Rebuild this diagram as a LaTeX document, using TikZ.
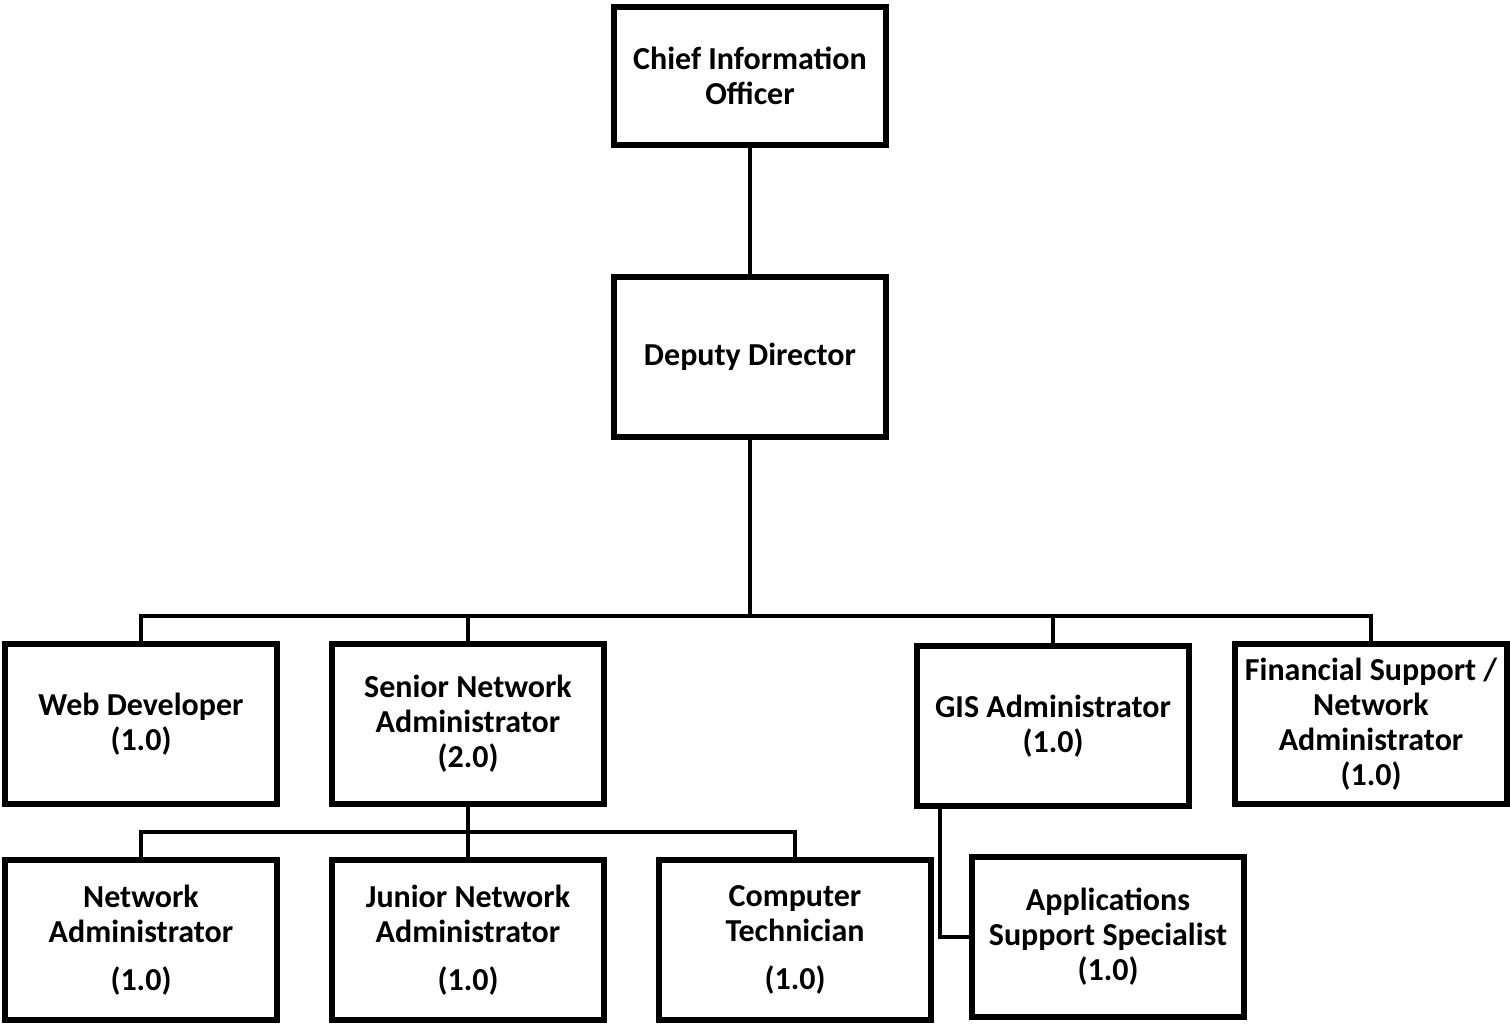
\documentclass[tikz,border=0pt]{standalone}
\usepackage{fontspec}
\setmainfont{Carlito}
\usetikzlibrary{positioning, shadows}

\begin{document}
\begin{tikzpicture}[node distance=163.5pt]
			\tikzstyle{post}=[
			draw, line width=3pt, fill=white,
			minimum width=136pt, minimum height=80pt, inner sep=1pt,
			drop shadow={opacity=0.3, shadow xshift=1pt, shadow yshift=-1.5pt},
			font=\fontsize{16}{17.5}\selectfont\bfseries, align=center
			]
			\tikzstyle{link}=[line width=2pt]
			
			\useasboundingbox (0,0) rectangle (755pt,-512.5pt);
			
			\node[post, minimum height=69pt] (cio) at (375pt,-38pt) {Chief Information\\Officer};
			\node[post] (dd) at (375pt,-178.5pt) {Deputy Director};
			
			\node[post] (web) at (70.5pt,-362pt) {Web Developer\\(1.0)};
			\node[post, right of=web] (sna) {Senior Network\\Administrator\\(2.0)};
			\node[post] (gis) at (526.5pt,-363pt) {GIS Administrator\\(1.0)};
			\node[post] (fin) at (685.5pt,-362pt) {Financial Support /\\Network\\Administrator\\(1.0)};
			
			\node[post] (na) at (70.5pt,-470pt) {Network\\Administrator\\[6.5pt](1.0)};
			\node[post, right of=na] (jna) {Junior Network\\Administrator\\[6.5pt](1.0)};
			\node[post, right of=jna] (ct) {Computer\\Technician\\[6.5pt](1.0)};
			\node[post] (app) at (554pt,-468.5pt) {Applications\\Support Specialist\\(1.0)};
			
			\coordinate (bus) at (375pt,-308pt);
			\coordinate (sbus) at (234pt,-416pt);
			\coordinate (gdrop) at ([xshift=13pt]gis.south west);
			
			\draw[link] (cio) -- (dd);
			\draw[link] (dd) -- (bus);
			\draw[link] (bus) -| (web);
			\draw[link] (bus) -| (sna);
			\draw[link] (bus) -| (gis);
			\draw[link] (bus) -| (fin);
			\draw[link] (sna) -- (jna);
			\draw[link] (sbus) -| (na);
			\draw[link] (sbus) -| (ct);
			\draw[link] (gdrop) |- (app);
		\end{tikzpicture}
\end{document}
